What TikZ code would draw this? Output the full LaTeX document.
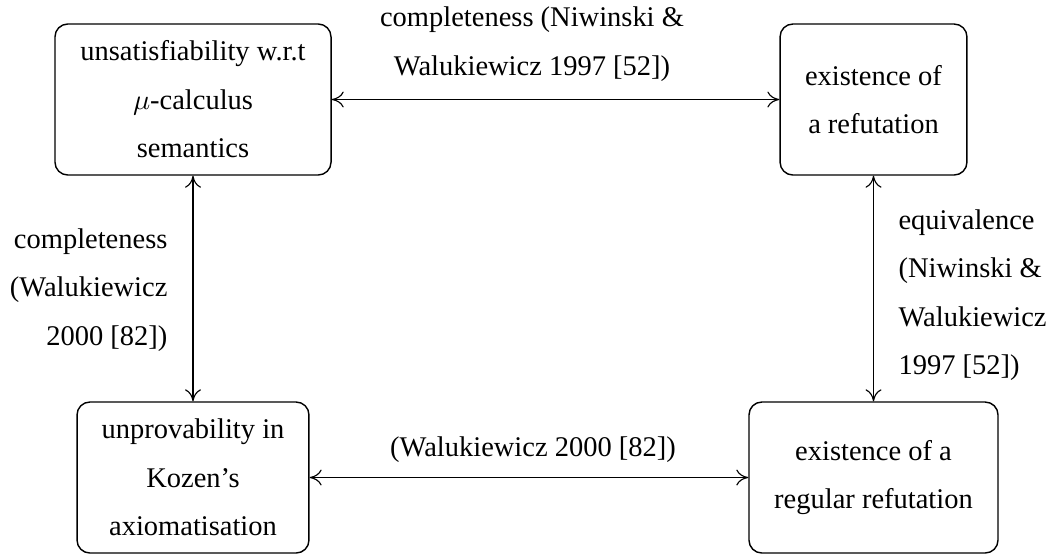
\documentclass[tikz,border=0pt]{standalone}
\usepackage{fontspec}
\newfontfamily\timesfont{Liberation Serif}
\usetikzlibrary{arrows.meta}
\begin{document}
\begin{tikzpicture}[x=0.351pt,y=-0.351pt,
  font=\timesfont\fontsize{10}{17}\selectfont,
  >={To[length=4.2pt,width=5.6pt]},
  box/.style={draw,line width=0.5pt,rounded corners=4.5pt,align=center,minimum height=53pt,inner sep=0pt},
  lbl/.style={inner sep=0pt}]
\useasboundingbox (0,0) rectangle (1054,554);
% the four statements
\node[box,minimum width=96.9pt] (unsat) at (193,99.5) {unsatisfiability w.r.t\\$\mu$-calculus\\semantics};
\node[box,minimum width=65.6pt] (refut) at (873.5,99.5) {existence of\\a refutation};
\node[box,minimum width=81.4pt] (unprov) at (193,477.5) {unprovability in\\Kozen’s\\axiomatisation};
\node[box,minimum width=87.4pt] (regref) at (873.5,477.5) {existence of a\\regular refutation};
% equivalences between them
\draw[<->] (unsat) -- (refut);
\draw[<->] (unsat) -- (unprov);
\draw[<->] (refut) -- (regref);
\draw[<->] (unprov) -- (regref);
\node[lbl,align=center] (top) at (532,44) {completeness (Niwinski \&\\Walukiewicz 1997 [52])};
\node[lbl,align=right,anchor=east] (left) at (168,290) {completeness\\(Walukiewicz\\2000 [82])};
\node[lbl,align=left,anchor=west] (right) at (898,295) {equivalence\\(Niwinski \&\\Walukiewicz\\1997 [52])};
\node[lbl,align=center] (bottom) at (533,450) {(Walukiewicz 2000 [82])};
\end{tikzpicture}
\end{document}
